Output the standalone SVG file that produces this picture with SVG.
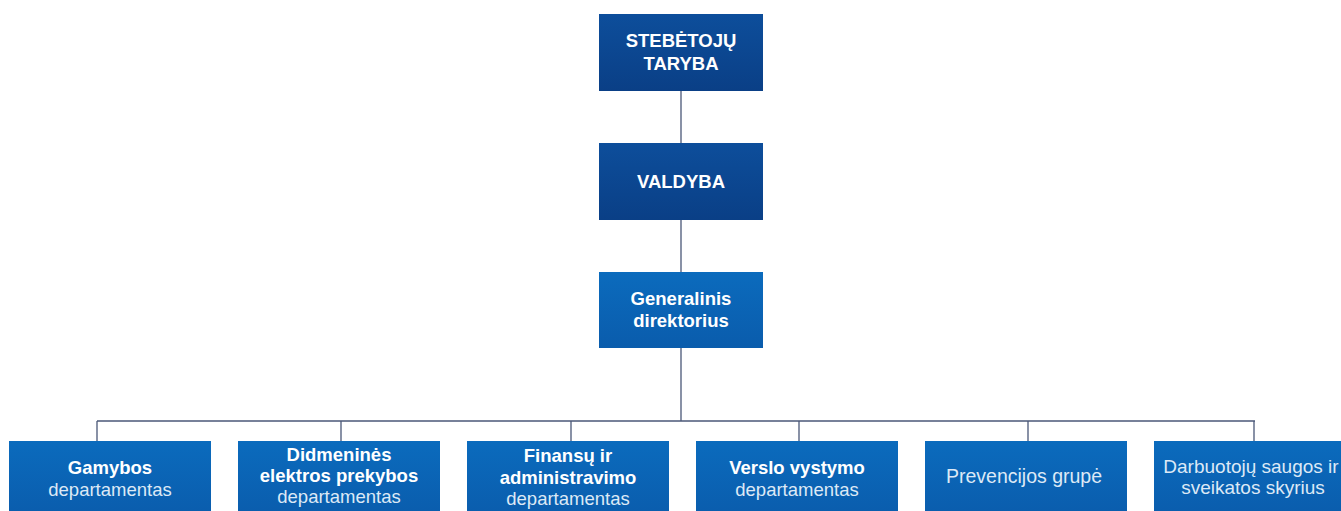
<svg xmlns="http://www.w3.org/2000/svg" width="1341" height="511" viewBox="0 0 1341 511">
<defs>
<linearGradient id="gDark" x1="0" y1="0" x2="0" y2="1">
<stop offset="0" stop-color="#0D4E9B"/>
<stop offset="1" stop-color="#0A3F86"/>
</linearGradient>
<linearGradient id="gLight" x1="0" y1="0" x2="0" y2="1">
<stop offset="0" stop-color="#0B6BBD"/>
<stop offset="1" stop-color="#0A5CAC"/>
</linearGradient>
<style>
.dark{fill:url(#gDark)}
.light{fill:url(#gLight)}
.t{font-family:"Liberation Sans",Arial,sans-serif;text-anchor:middle;font-size:18.5px}
.b{font-weight:bold;fill:#ffffff}
.r{fill:#dde9f6}
.big{font-size:19.5px}
.mid{font-size:19px}
.c{stroke:#4B5878;stroke-width:1.3;fill:none}
</style>
</defs>
<rect width="1341" height="511" fill="#ffffff"/>
<g id="connectors">
<path class="c" d="M681 91V143M681 220V272M681 348V421M97 421H1255M97 421V441M341 421V441M571 421V441M799 421V441M1028 421V441M1254 421V441"/>
</g>
<g id="stebetoju">
<rect class="dark" x="599" y="14" width="164" height="77"/>
<text class="t b" x="681" y="47">STEBĖTOJŲ</text>
<text class="t b" x="681" y="70">TARYBA</text>
</g>
<g id="valdyba">
<rect class="dark" x="599" y="143" width="164" height="77"/>
<text class="t b" x="681" y="188">VALDYBA</text>
</g>
<g id="generalinis">
<rect class="light" x="599" y="272" width="164" height="76"/>
<text class="t b" x="681" y="305">Generalinis</text>
<text class="t b" x="681" y="327">direktorius</text>
</g>
<g id="gamybos">
<rect class="light" x="9" y="441" width="202" height="77"/>
<text class="t b" x="110" y="474">Gamybos</text>
<text class="t r" x="110" y="496">departamentas</text>
</g>
<g id="didmenines">
<rect class="light" x="238" y="441" width="202" height="77"/>
<text class="t b" x="339" y="461">Didmeninės</text>
<text class="t b" x="339" y="482">elektros prekybos</text>
<text class="t r" x="339" y="503">departamentas</text>
</g>
<g id="finansu">
<rect class="light" x="467" y="441" width="202" height="77"/>
<text class="t b" x="568" y="462">Finansų ir</text>
<text class="t b" x="568" y="484">administravimo</text>
<text class="t r" x="568" y="505">departamentas</text>
</g>
<g id="verslo">
<rect class="light" x="696" y="441" width="202" height="77"/>
<text class="t b" x="797" y="474">Verslo vystymo</text>
<text class="t r" x="797" y="496">departamentas</text>
</g>
<g id="prevencijos">
<rect class="light" x="925" y="441" width="202" height="77"/>
<text class="t r big" x="1024" y="483">Prevencijos grupė</text>
</g>
<g id="darbuotoju">
<rect class="light" x="1154" y="441" width="202" height="77"/>
<text class="t r mid" x="1251" y="473">Darbuotojų saugos ir</text>
<text class="t r mid" x="1253" y="494">sveikatos skyrius</text>
</g>
</svg>
